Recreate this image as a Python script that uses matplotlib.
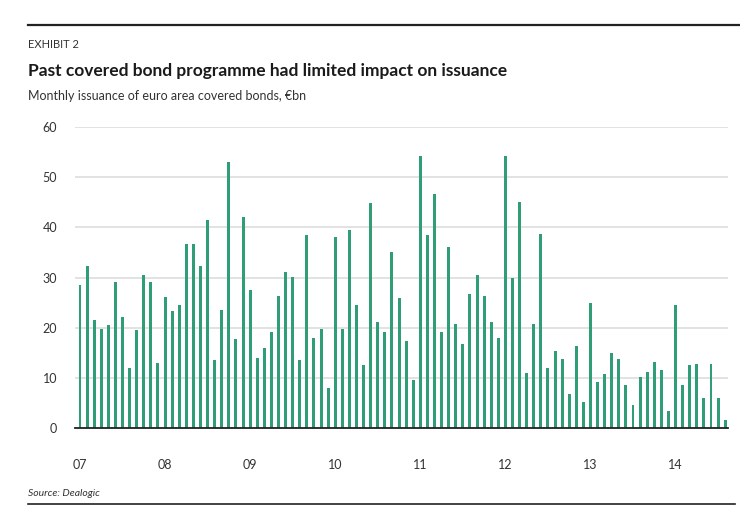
import matplotlib
matplotlib.use("Agg")
import matplotlib.pyplot as plt

# monthly issuance, Jan 2007 - Aug 2014, EUR bn
issuance = [
    28.5, 32.3, 21.6, 19.8, 20.5, 29.2, 22.2, 11.9, 19.5, 30.5, 29.2, 12.9,   # 2007
    26.1, 23.3, 24.6, 36.7, 36.7, 32.3, 41.5, 13.6, 23.6, 53.0, 17.8, 42.0,   # 2008
    27.6, 13.9, 16.0, 19.1, 26.4, 31.1, 30.2, 13.5, 38.4, 18.0, 19.8, 8.0,    # 2009
    38.0, 19.8, 39.5, 24.6, 12.5, 44.9, 21.2, 19.1, 35.0, 26.0, 17.4, 9.5,    # 2010
    54.3, 38.4, 46.7, 19.1, 36.0, 20.8, 16.7, 26.7, 30.5, 26.4, 21.2, 18.0,   # 2011
    54.3, 29.9, 45.1, 10.9, 20.8, 38.7, 11.9, 15.3, 13.7, 6.7, 16.4, 5.2,     # 2012
    24.9, 9.1, 10.8, 14.9, 13.7, 8.5, 4.6, 10.1, 11.2, 13.2, 11.5, 3.3,       # 2013
    24.6, 8.5, 12.5, 12.8, 5.9, 12.8, 5.9, 1.5,                               # 2014
]
year_labels = ["07", "08", "09", "10", "11", "12", "13", "14"]
y_ticks = [0, 10, 20, 30, 40, 50, 60]

plt.rcParams["font.family"] = ["Lato", "DejaVu Sans"]

fig = plt.figure(figsize=(7.4, 5.07), dpi=100)
ax = fig.add_axes([0.1014, 0.1558, 0.8824, 0.5937])

x = list(range(len(issuance)))
ax.bar(x, issuance, width=0.42, color="#2f9e76", zorder=3)

ax.set_xlim(-0.7, 91.4)
ax.set_ylim(0, 60)
ax.set_yticks(y_ticks)
ax.set_yticklabels([str(t) for t in y_ticks], fontsize=9, color="#333333")
ax.set_xticks([12 * i for i in range(len(year_labels))])
ax.set_xticklabels(year_labels, fontsize=9, color="#333333")
ax.tick_params(axis="both", length=0)
ax.tick_params(axis="x", pad=22)
ax.tick_params(axis="y", pad=13)

ax.grid(axis="y", color="#dddddd", linewidth=1.2, zorder=0)
for s in ["top", "right", "left"]:
    ax.spines[s].set_visible(False)
ax.spines["bottom"].set_color("#222222")
ax.spines["bottom"].set_linewidth(1.3)
ax.spines["bottom"].set_zorder(4)

# header and footer
fig.add_artist(plt.Line2D([28 / 740, 1.0], [1 - 25 / 507] * 2, color="#222222", linewidth=1.6))
fig.add_artist(plt.Line2D([28 / 740, 735 / 740], [1 - 504 / 507] * 2, color="#222222", linewidth=1.2))
fig.text(28 / 740, 1 - 45 / 507, "EXHIBIT 2", fontsize=8, color="#333333", va="center")
fig.text(28 / 740, 1 - 71 / 507, "Past covered bond programme had limited impact on issuance",
         fontsize=12.5, fontweight="bold", color="#1a1a1a", va="center")
fig.text(28 / 740, 1 - 96 / 507, "Monthly issuance of euro area covered bonds, \u20acbn",
         fontsize=9, color="#333333", va="center")
fig.text(28 / 740, 1 - 493 / 507, "Source: Dealogic", fontsize=7.5, style="italic",
         color="#333333", va="center")

plt.savefig("out.png", dpi=100)
